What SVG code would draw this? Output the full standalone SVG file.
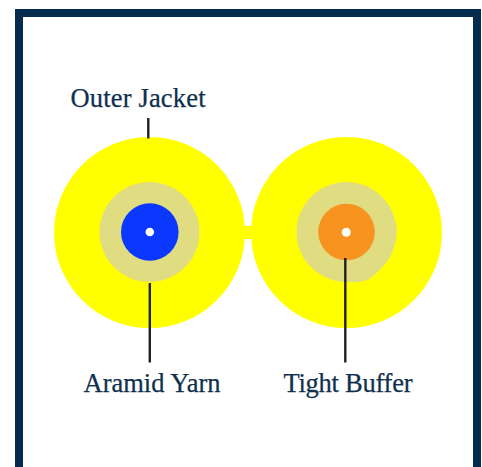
<svg xmlns="http://www.w3.org/2000/svg" width="482" height="467" viewBox="0 0 482 467">
<style>
.lbl{font-family:"Liberation Serif","DejaVu Serif",serif;font-size:26.5px;fill:#10304f;stroke:#10304f;stroke-width:.25}
.ldr{stroke:#231f20;stroke-width:2.4;fill:none}
.jacket{fill:#ffff00}
.yarn{fill:#e0dc82}
.hole{fill:#ffffff}
</style>
<rect width="482" height="467" fill="#ffffff"/>
<path d="M19 467V13H477V467" fill="none" stroke="#052c4c" stroke-width="8"/>
<g id="cable-left">
<circle class="jacket" cx="149.5" cy="232.5" r="95.5"/>
<circle class="yarn" cx="149.5" cy="232" r="50"/>
<circle cx="149.8" cy="232" r="28.8" fill="#0a38ff"/>
<circle class="hole" cx="149.8" cy="232" r="4.3"/>
</g>
<g id="bridge"><rect x="243" y="226" width="10" height="13" fill="#ffff00"/></g>
<g id="cable-right">
<circle class="jacket" cx="346.5" cy="232.5" r="95.5"/>
<circle class="yarn" cx="346.5" cy="232" r="50"/>
<path class="yarn" d="M346 282C358 282.500 366 282 372 277C386 266 397 248 396.800 226L380 226Z"/>
<circle cx="346.5" cy="232" r="28.3" fill="#f7931e"/>
<circle class="hole" cx="346.3" cy="232.3" r="4.500"/>
</g>
<g id="connectors">
<line class="ldr" x1="148.3" y1="118" x2="148.3" y2="138.5"/>
<line class="ldr" x1="149.8" y1="283" x2="149.8" y2="362.5"/>
<line class="ldr" x1="345.3" y1="258" x2="345.3" y2="362.5"/>
</g>
<g id="label-outer-jacket"><text class="lbl" x="70.5" y="107" textLength="135" lengthAdjust="spacing">Outer Jacket</text></g>
<g id="label-aramid-yarn"><text class="lbl" x="83.5" y="392" textLength="137" lengthAdjust="spacing">Aramid Yarn</text></g>
<g id="label-tight-buffer"><text class="lbl" x="283.5" y="392" textLength="129" lengthAdjust="spacing">Tight Buffer</text></g>
</svg>
